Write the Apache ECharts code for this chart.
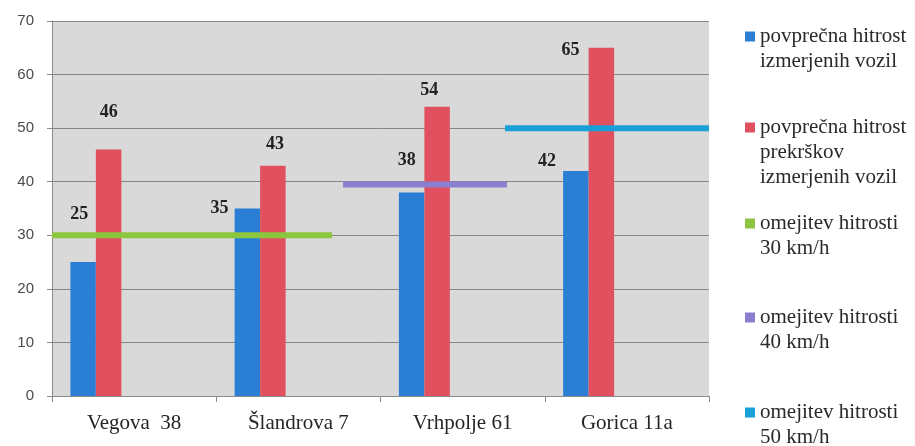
<!DOCTYPE html>
<html>
<head>
<meta charset="utf-8">
<script src="https://cdn.jsdelivr.net/npm/echarts@6/dist/echarts.min.js"></script>
<style>
html,body{margin:0;padding:0;background:#ffffff;}
#chart{width:915px;height:446px;}
</style>
</head>
<body>
<div id="chart"></div>
<script>
// ---- data ----
const categories = ['Vegova  38', 'Šlandrova 7', 'Vrhpolje 61', 'Gorica 11a'];
const avgSpeed = [25, 35, 38, 42];
const avgViolationSpeed = [46, 43, 54, 65];
const seriesNames = [
  'povprečna hitrost izmerjenih vozil',
  'povprečna hitrost prekrškov izmerjenih vozil',
  'omejitev hitrosti 30 km/h',
  'omejitev hitrosti 40 km/h',
  'omejitev hitrosti 50 km/h'
];
const legendTexts = [
  'povprečna hitrost\nizmerjenih vozil',
  'povprečna hitrost\nprekrškov\nizmerjenih vozil',
  'omejitev hitrosti\n30 km/h',
  'omejitev hitrosti\n40 km/h',
  'omejitev hitrosti\n50 km/h'
];
const limitValues = [30, 39.5, 50];
// extent of each limit line, in category units along the x axis
const limitSpans = [[0, 1.705], [1.772, 2.77], [2.758, 4]];
const yTicks = [0, 10, 20, 30, 40, 50, 60, 70];

// ---- styles ----
const colors = ['#2a7fd4', '#e1505f', '#8cc63e', '#8b7fd0', '#1aa0d8'];
const blueLabelOffsets = [[-4, -34], [-28, 14], [-5, -18], [-29, 4]];
const redLabelOffsets = [[0, -23], [2, -7], [-8, -2], [-31, 17]];
const legendTops = [-1, 65, 186, 280, 375];

function barData(values, offsets) {
  return values.map((v, i) => ({ value: v, label: { offset: offsets[i] } }));
}

const labelStyle = {
  show: true,
  position: 'top',
  distance: 5,
  fontFamily: 'Liberation Serif',
  fontSize: 18,
  fontWeight: 'bold',
  color: '#222222'
};

const series = [
  {
    name: seriesNames[0], type: 'bar', xAxisIndex: 0,
    data: barData(avgSpeed, blueLabelOffsets),
    itemStyle: { color: colors[0] }, barWidth: 25.5, barGap: '0%',
    label: labelStyle, z: 2
  },
  {
    name: seriesNames[1], type: 'bar', xAxisIndex: 0,
    data: barData(avgViolationSpeed, redLabelOffsets),
    itemStyle: { color: colors[1] }, barWidth: 25.5, barGap: '0%',
    label: labelStyle, z: 2
  },
  // empty placeholder slots (the original chart reserves room for 5 series per category)
  { name: '_slot1', type: 'bar', xAxisIndex: 0, data: [], barWidth: 25.5, barGap: '0%' },
  { name: '_slot2', type: 'bar', xAxisIndex: 0, data: [], barWidth: 25.5, barGap: '0%' },
  { name: '_slot3', type: 'bar', xAxisIndex: 0, data: [], barWidth: 25.5, barGap: '0%' }
];
limitValues.forEach((v, i) => {
  series.push({
    name: seriesNames[2 + i], type: 'line', xAxisIndex: 1, yAxisIndex: 0,
    data: [[limitSpans[i][0], v], [limitSpans[i][1], v]],
    symbol: 'none', silent: true,
    itemStyle: { color: colors[2 + i] },
    lineStyle: { color: colors[2 + i], width: 6, cap: 'butt' },
    z: 3
  });
});

const legends = seriesNames.map((n, i) => ({
  data: [n],
  orient: 'vertical',
  left: 745,
  top: legendTops[i],
  padding: 0,
  icon: 'rect',
  itemWidth: 10,
  itemHeight: 10,
  selectedMode: false,
  formatter: function () {
    const lines = legendTexts[i].split('\n');
    return '\n'.repeat(lines.length - 1) + legendTexts[i];
  },
  textStyle: {
    fontFamily: 'Liberation Serif',
    fontSize: 21,
    lineHeight: 25,
    color: '#2a2a2a'
  }
}));

const option = {
  animation: false,
  backgroundColor: '#ffffff',
  legend: legends,
  grid: {
    left: 52, right: 206, top: 21, bottom: 50,
    show: true, backgroundColor: '#d9d9d9', borderWidth: 0
  },
  xAxis: [
    {
      type: 'category',
      data: categories,
      boundaryGap: true,
      axisLine: { show: true, lineStyle: { color: '#8a8a8a', width: 1 } },
      axisTick: { show: true, length: 6, lineStyle: { color: '#8a8a8a' } },
      axisLabel: {
        margin: 17,
        fontFamily: 'Liberation Serif',
        fontSize: 21,
        color: '#262626'
      }
    },
    { type: 'value', min: 0, max: 4, show: false }
  ],
  yAxis: {
    type: 'value',
    min: yTicks[0],
    max: yTicks[yTicks.length - 1],
    interval: yTicks[1] - yTicks[0],
    axisLine: { show: true, lineStyle: { color: '#8a8a8a' } },
    axisTick: { show: true, length: 5, lineStyle: { color: '#8a8a8a' } },
    splitLine: { show: true, lineStyle: { color: '#858585', width: 1 } },
    axisLabel: {
      margin: 18,
      fontFamily: 'Liberation Sans',
      fontSize: 15,
      color: '#4a4a4a'
    }
  },
  series: series
};

const chart = echarts.init(document.getElementById('chart'), null, { renderer: 'canvas' });
chart.setOption(option);
</script>
</body>
</html>
